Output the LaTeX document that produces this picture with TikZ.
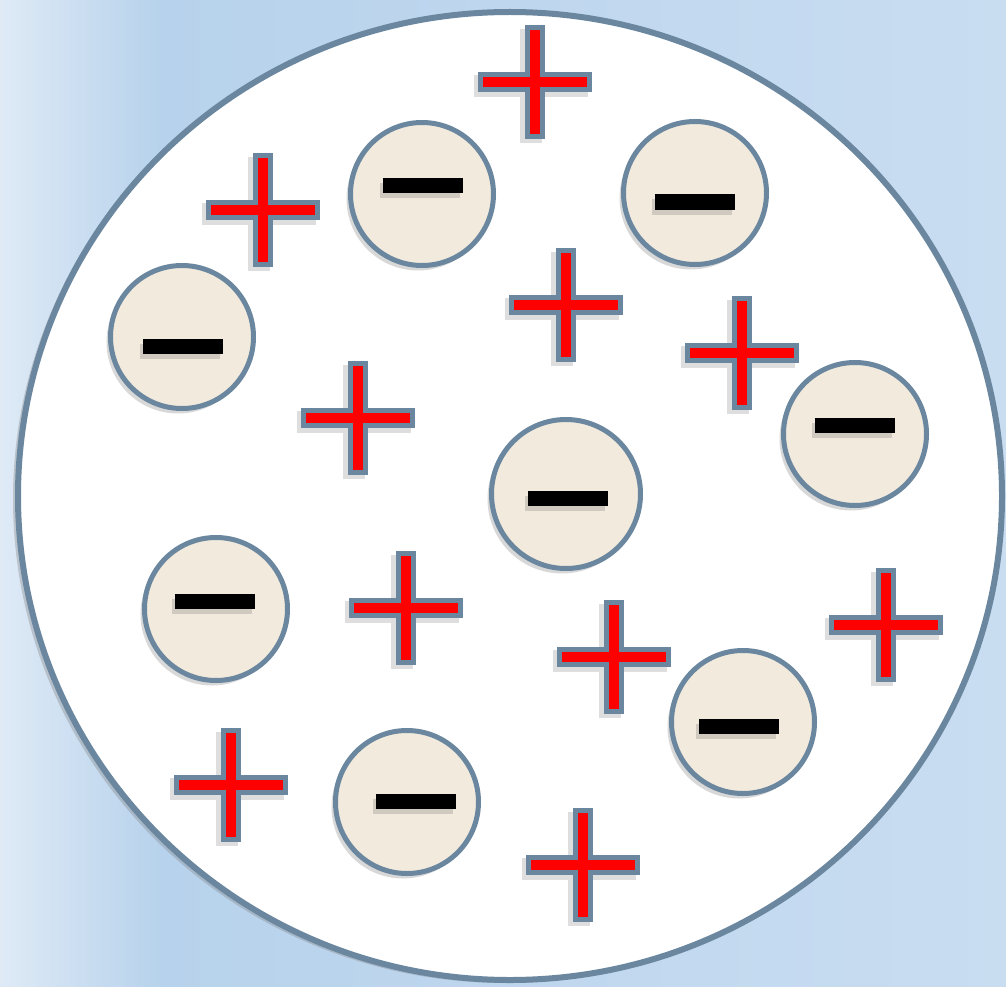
\documentclass[tikz,border=0pt]{standalone}
\usepackage{tikz}
\usetikzlibrary{shadows,positioning}
\definecolor{bgL}{RGB}{223,234,246}
\definecolor{bgM}{RGB}{183,210,236}
\definecolor{bgR}{RGB}{201,221,241}
\definecolor{rim}{RGB}{106,135,159}
\definecolor{beige}{RGB}{242,234,220}
\tikzset{
  bigdisc/.style={draw=rim, line width=6pt, fill=white,
    drop shadow={shadow xshift=-5pt, shadow yshift=-3pt, opacity=0.35}},
  anion/.style={circle, draw=rim, line width=5pt, fill=beige, minimum size=143pt, inner sep=0pt,
    drop shadow={shadow xshift=-4pt, shadow yshift=-5pt, opacity=0.3}},
  minusbar/.style={rectangle, fill=black, minimum width=80pt, minimum height=15pt, inner sep=0pt,
    drop shadow={shadow xshift=-3pt, shadow yshift=-5pt, opacity=0.3}},
  crossshadow/.style={line width=22pt, black, opacity=0.13},
  crossrim/.style={line width=20pt, rim},
  crossred/.style={line width=10pt, red},
}
% plus sign: name, position
\newcommand{\chargeplus}[2]{%
  \coordinate (#1) at (#2);
  \begin{scope}[shift={(#1)}]
    \draw[crossshadow] (-61,4) -- (53,4) (-4,-53) -- (-4,61);
    \draw[crossrim] (-57,0) -- (57,0) (0,-57) -- (0,57);
    \draw[crossred] (-52,0) -- (52,0) (0,-52) -- (0,52);
  \end{scope}}

\begin{document}
\begin{tikzpicture}[x=1pt, y=-1pt]
\useasboundingbox (0,0) rectangle (1006,987);
% --- background ---
\shade[left color=bgL, right color=bgM] (0,0) rectangle (160,987);
\shade[left color=bgM, right color=bgR] (160,0) rectangle (1006,987);
% --- container ---
\path[bigdisc] (510,496) ellipse [x radius=492, y radius=484];
% --- negative charges ---
\node[anion] (m1) at (422,194) {};
\node[anion] (m2) at (695,193) {};
\node[anion] (m3) at (182,337) {};
\node[anion] (m4) at (855,434) {};
\node[anion, minimum size=149pt] (m5) at (566,494) {};
\node[anion] (m6) at (216,609) {};
\node[anion] (m7) at (743,722) {};
\node[anion] (m8) at (407,802) {};
\node[minusbar] (b1) at (423,186) {};
\node[minusbar] (b2) at (695,202) {};
\node[minusbar] (b3) at (183,346) {};
\node[minusbar] (b4) at (855,425) {};
\node[minusbar] (b5) at (568,498) {};
\node[minusbar] (b6) at (215,601) {};
\node[minusbar] (b7) at (739,726) {};
\node[minusbar] (b8) at (416,801) {};
% --- positive charges ---
\chargeplus{p1}{535,82}
\chargeplus{p2}{263,210}
\chargeplus{p3}{566,305}
\chargeplus{p4}{742,353}
\chargeplus{p5}{358,418}
\chargeplus{p6}{406,608}
\chargeplus{p7}{614,657}
\chargeplus{p8}{886,625}
\chargeplus{p9}{231,785}
\chargeplus{p10}{583,865}
\end{tikzpicture}
\end{document}
